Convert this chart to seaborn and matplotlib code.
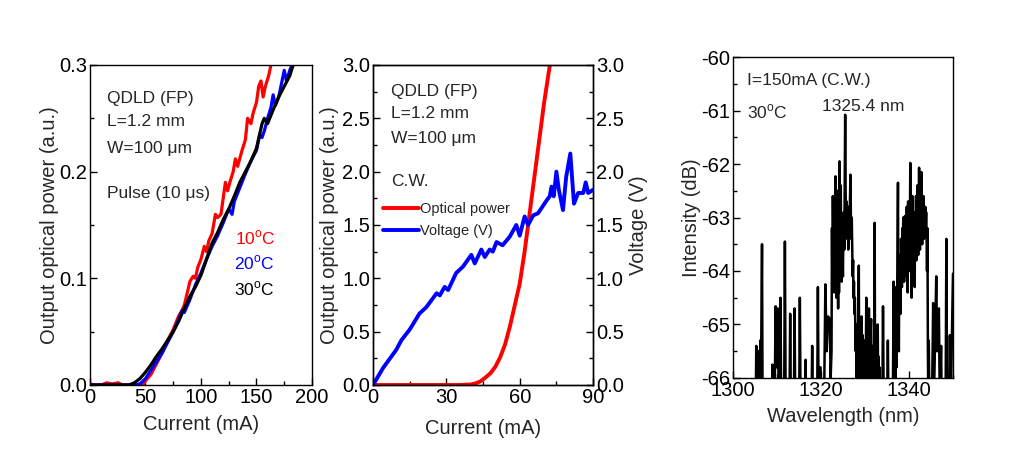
import matplotlib
matplotlib.use("Agg")
import matplotlib.pyplot as plt
import seaborn as sns
import numpy as np
from matplotlib.ticker import MultipleLocator, FormatStrFormatter

# ---------------- data: panel 1 (pulsed L-I at three temperatures) ----------------
i_10C = [0, 5, 10, 15, 20, 25, 30, 35, 40, 45, 48, 50, 55, 60, 65, 70, 75, 80, 83, 85, 88, 90, 93, 95,
         97, 100, 103, 105, 107, 110, 113, 115, 118, 120, 122, 124, 126, 129, 131, 133, 137, 140, 142,
         145, 147, 150, 152, 154, 156, 158, 161, 163, 165]
p_10C = [0.001, 0.0, 0.0, 0.002, 0.001, 0.002, 0.0, 0.0, 0.0, 0.0, 0.0, 0.004, 0.01, 0.02, 0.03, 0.042,
         0.052, 0.065, 0.07, 0.075, 0.088, 0.097, 0.102, 0.1, 0.11, 0.118, 0.13, 0.125, 0.135, 0.142,
         0.16, 0.157, 0.16, 0.175, 0.19, 0.182, 0.19, 0.2, 0.212, 0.205, 0.22, 0.23, 0.25, 0.245, 0.255,
         0.265, 0.28, 0.285, 0.27, 0.28, 0.29, 0.3, 0.305]

i_20C = [0, 10, 20, 30, 40, 45, 50, 55, 60, 65, 70, 75, 80, 83, 85, 90, 95, 100, 105, 110, 115, 120, 125,
         128, 130, 135, 140, 145, 150, 153, 155, 157, 160, 163, 165, 167, 170, 173, 175, 177, 180, 182]
p_20C = [0.0, 0.0, 0.0, 0.0, 0.0, 0.001, 0.006, 0.014, 0.022, 0.03, 0.04, 0.05, 0.062, 0.07, 0.068, 0.08,
         0.094, 0.105, 0.118, 0.13, 0.14, 0.152, 0.165, 0.16, 0.172, 0.185, 0.198, 0.21, 0.22, 0.235,
         0.232, 0.238, 0.25, 0.26, 0.272, 0.262, 0.27, 0.285, 0.295, 0.285, 0.295, 0.3]

i_30C = [0, 10, 20, 30, 35, 40, 45, 50, 55, 60, 65, 70, 75, 80, 85, 90, 95, 100, 105, 110, 115, 120, 125,
         130, 135, 140, 145, 150, 155, 157, 160, 165, 170, 175, 180, 183]
p_30C = [0.0, 0.0, 0.0, 0.0, 0.0, 0.002, 0.006, 0.012, 0.019, 0.027, 0.034, 0.042, 0.05, 0.06, 0.072, 0.083,
         0.092, 0.103, 0.118, 0.133, 0.143, 0.155, 0.165, 0.177, 0.19, 0.2, 0.21, 0.222, 0.245, 0.25,
         0.245, 0.258, 0.27, 0.28, 0.29, 0.3]

# ---------------- data: panel 2 (C.W. L-I-V) ----------------
i_cw_power = [0, 10, 20, 30, 35, 40, 42, 44, 46, 48, 50, 52, 54, 56, 58, 60, 62, 64, 66, 68, 70, 72, 73]
p_cw = [0, 0, 0, 0, 0, 0.005, 0.015, 0.035, 0.07, 0.11, 0.17, 0.26, 0.38, 0.55, 0.75, 0.95, 1.25, 1.6,
        1.95, 2.3, 2.65, 2.95, 3.1]

i_cw_volt = [0, 4.1, 9.5, 11.6, 15, 19, 21.8, 26, 27.3, 29.3, 30.7, 34, 36.8, 40.2, 41.6, 44.3, 45.7,
             47.7, 49, 50.5, 53, 55.9, 58.6, 60, 62, 63.4, 65.5, 67.5, 71, 72.3, 73, 73.9, 75, 76, 77.7,
             79, 80.7, 82.2, 83.9, 86, 87, 88, 90]
v_cw = [0.0, 0.16, 0.33, 0.42, 0.52, 0.67, 0.73, 0.86, 0.84, 0.92, 0.89, 1.05, 1.11, 1.22, 1.14, 1.27, 1.2,
        1.27, 1.25, 1.34, 1.31, 1.39, 1.5, 1.4, 1.58, 1.5, 1.59, 1.61, 1.73, 1.77, 1.86, 1.77, 2.0, 1.83,
        1.64, 1.95, 2.17, 1.7, 1.8, 1.8, 1.9, 1.8, 1.83]

# ---------------- data: panel 3 (spectrum, I=150 mA, 30 C) ----------------
# sparse spikes, 1300-1322.2 nm
wl_a = [1300.0, 1305.1, 1305.3, 1305.5, 1305.7, 1306.0, 1306.2, 1306.4, 1306.6, 1306.75,
        1308.8, 1308.95, 1309.1, 1309.5, 1309.7, 1309.9, 1310.2, 1310.4, 1310.8, 1311.0,
        1311.6, 1311.8, 1312.0, 1312.8, 1313.0, 1313.2, 1313.8, 1314.0, 1314.2,
        1315.0, 1315.2, 1315.4, 1316.3, 1316.5, 1316.7, 1317.8, 1318.0, 1318.2,
        1319.1, 1319.3, 1319.5, 1319.9, 1320.1, 1320.7, 1321.0, 1321.3, 1321.6, 1322.0, 1322.2]
db_a = [-67, -67, -65.4, -67, -65.5, -67, -65.3, -65.6, -63.5, -67,
        -67, -65.75, -67, -66.2, -64.66, -65.8, -64.7, -66.5, -64.5, -67,
        -67, -63.45, -67, -67, -64.8, -67, -67, -64.7, -67,
        -67, -64.5, -67, -67, -65.66, -67, -67, -65.4, -67,
        -67, -64.3, -67, -65.8, -67, -66.5, -64.25, -65.5, -64.85, -64.9, -66.0]
# main mode cluster, 1322.4-1333.4 nm, every 0.1 nm
wl_b_start = 1322.4
db_b = [-65.5, -63.2, -64.4, -62.6, -63.6, -64.3, -63.0, -64.4, -62.7, -62.23,
        -63.9, -64.5, -62.9, -62.5, -63.8, -64.7, -63.2, -64.4, -61.95, -63.3,
        -63.9, -62.4, -63.6, -64.2, -63.3, -63.9, -64.1, -63.0, -62.9, -63.6,
        -62.3, -61.08, -62.5, -63.0, -62.7, -63.3, -63.4, -62.9, -63.6, -62.8,
        -63.3, -63.1, -62.7, -62.2, -63.0, -63.4, -63.0, -63.6, -64.1, -63.8,
        -64.5, -64.2, -64.8, -64.5, -65.0, -65.5, -65.0, -66.5, -65.4, -65.9,
        -65.2, -64.8, -63.9, -66.3, -65.1, -65.9, -65.3, -66.4, -64.85, -65.7,
        -66.2, -65.2, -66.5, -65.4, -66.6, -65.8, -65.3, -66.1, -65.6, -64.5,
        -66.0, -65.4, -66.3, -65.0, -65.7, -64.7, -66.2, -65.5, -66.4, -65.1,
        -64.9, -66.0, -65.6, -66.3, -65.4, -66.1, -65.6, -66.3, -63.1, -66.0,
        -65.3, -66.2, -65.5, -66.4, -65.2, -65.0, -66.3, -65.6, -66.5, -65.8,
        -67]
# isolated lines, 1333.9-1336.2 nm
wl_c = [1333.9, 1334.1, 1334.3, 1335.0, 1335.2, 1335.4, 1336.2]
db_c = [-67, -64.66, -67, -67, -65.3, -67, -67]
# second cluster, 1336.3-1344.7 nm, every 0.1 nm
wl_d_start = 1336.3
db_d = [-67, -65.5, -64.2, -66.5, -65.6, -64.9, -66.2, -65.1, -64.3, -65.8,
        -64.6, -63.5, -62.35, -64.9, -65.5, -64.1, -64.6, -63.7, -64.8, -63.4,
        -63.9, -64.3, -63.2, -64.0, -63.0, -63.6, -64.2, -63.3, -62.97, -63.8,
        -63.3, -64.1, -62.8, -63.5, -64.4, -62.7, -63.4, -63.0, -64.0, -63.2,
        -61.98, -62.9, -63.4, -64.5, -63.1, -62.6, -63.5, -64.2, -63.0, -63.6,
        -64.3, -62.9, -63.5, -62.6, -63.8, -63.1, -62.4, -63.3, -63.7, -62.8,
        -62.07, -63.0, -63.6, -62.5, -62.9, -62.15, -63.1, -63.5, -62.7, -63.2,
        -62.6, -63.4, -62.9, -63.3, -62.8, -63.2, -62.9, -63.3, -64.0, -63.2,
        -65.5, -66.5, -65.3, -66.2, -67]
# long-wavelength tail, 1345.3-1350 nm
wl_e = [1345.3, 1345.5, 1345.7, 1346.0, 1346.2, 1346.4, 1346.6, 1346.8, 1347.0, 1347.3, 1347.5,
        1348.3, 1348.5, 1348.7, 1349.1, 1349.3, 1349.5, 1349.8, 1350.0]
db_e = [-66.0, -64.6, -66.3, -65.0, -64.1, -65.5, -65.2, -64.7, -66.5, -65.4, -67,
        -67, -63.4, -67, -67, -65.2, -66.5, -65.0, -64.05]

wl_b = list(np.round(wl_b_start + 0.1 * np.arange(len(db_b)), 2))
wl_d = list(np.round(wl_d_start + 0.1 * np.arange(len(db_d)), 2))
wavelength = wl_a + wl_b + wl_c + wl_d + wl_e
intensity = db_a + db_b + db_c + db_d + db_e

# ---------------- style ----------------
sns.set_style("ticks")
plt.rcParams['font.family'] = ['Liberation Sans', 'DejaVu Sans']
plt.rcParams['mathtext.fontset'] = 'custom'
plt.rcParams['mathtext.rm'] = 'Liberation Sans'
plt.rcParams['axes.linewidth'] = 1.0
plt.rcParams['axes.unicode_minus'] = False

TICK_FS = 14.5
LABEL_FS = 14.5
ANN_FS = 12.5

fig = plt.figure(figsize=(10.11, 4.58), dpi=100)
ax1 = fig.add_axes([0.089, 0.1594, 0.2196, 0.6987])
ax2 = fig.add_axes([0.369, 0.1594, 0.2176, 0.6987])
ax3 = fig.add_axes([0.725, 0.1747, 0.2176, 0.7008])


def style_ticks(ax, left=True, bottom=True, right=False, top=False):
    ax.tick_params(which='both', direction='in', left=left, bottom=bottom, right=right, top=top,
                   labelsize=TICK_FS, pad=2, colors='black')
    ax.tick_params(which='major', length=5, width=1)
    ax.tick_params(which='minor', length=3, width=1)
    for s in ax.spines.values():
        s.set_color('black')
        s.set_linewidth(1.0)


# ---- panel 1 ----
sns.lineplot(x=i_10C, y=p_10C, ax=ax1, color='#ff0000', lw=2.3, estimator=None)
sns.lineplot(x=i_20C, y=p_20C, ax=ax1, color='#0000ff', lw=2.3, estimator=None)
sns.lineplot(x=i_30C, y=p_30C, ax=ax1, color='black', lw=2.3, estimator=None)
ax1.set_xlim(0, 200)
ax1.set_ylim(0, 0.3)
ax1.xaxis.set_major_locator(MultipleLocator(50))
ax1.xaxis.set_minor_locator(MultipleLocator(25))
ax1.yaxis.set_major_locator(MultipleLocator(0.1))
ax1.yaxis.set_minor_locator(MultipleLocator(0.05))
ax1.yaxis.set_major_formatter(FormatStrFormatter('%.1f'))
style_ticks(ax1)
ax1.set_xlabel('Current (mA)', fontsize=LABEL_FS, labelpad=6)
ax1.set_ylabel('Output optical power (a.u.)', fontsize=LABEL_FS, labelpad=0)

t1 = dict(transform=ax1.transData, fontsize=ANN_FS, va='center', ha='left')
ax1.text(15, 0.269, 'QDLD (FP)', **t1)
ax1.text(15, 0.2468, 'L=1.2 mm', **t1)
ax1.text(15, 0.2219, 'W=100 μm', **t1)
ax1.text(15, 0.1797, 'Pulse (10 μs)', **t1)
ax1.text(131, 0.1375, '10$^{\\mathrm{o}}$C', color='#ff0000', **t1)
ax1.text(130, 0.1140, '20$^{\\mathrm{o}}$C', color='#0000ff', **t1)
ax1.text(130, 0.0905, '30$^{\\mathrm{o}}$C', color='black', **t1)

# ---- panel 2 ----
sns.lineplot(x=i_cw_power, y=p_cw, ax=ax2, color='#ff0000', lw=2.8, estimator=None, label='Optical power')
ax2b = ax2.twinx()
ax2b.set_position(ax2.get_position())
sns.lineplot(x=i_cw_volt, y=v_cw, ax=ax2b, color='#0000ff', lw=2.8, estimator=None, label='Voltage (V)')
ax2.set_xlim(0, 90)
ax2.set_ylim(0, 3.0)
ax2b.set_ylim(0, 3.0)
ax2.xaxis.set_major_locator(MultipleLocator(30))
ax2.xaxis.set_minor_locator(MultipleLocator(15))
for a in (ax2, ax2b):
    a.yaxis.set_major_locator(MultipleLocator(0.5))
    a.yaxis.set_minor_locator(MultipleLocator(0.25))
    a.yaxis.set_major_formatter(FormatStrFormatter('%.1f'))
style_ticks(ax2)
style_ticks(ax2b, left=False, right=True)
ax2b.tick_params(labelright=True, labelleft=False)
ax2.set_xlabel('Current (mA)', fontsize=LABEL_FS, labelpad=8.5)
ax2.set_ylabel('Output optical power (a.u.)', fontsize=LABEL_FS, labelpad=2.5)
ax2b.set_ylabel('Voltage (V)', fontsize=LABEL_FS, labelpad=4)

h1, l1 = ax2.get_legend_handles_labels()
h2, l2 = ax2b.get_legend_handles_labels()
if ax2b.get_legend() is not None:
    ax2b.get_legend().remove()
ax2.legend(h1 + h2, l1 + l2, loc='upper left', bbox_to_anchor=(0.0, 0.60), frameon=False,
           fontsize=10.5, handlelength=2.5, handletextpad=0.1, labelspacing=0.5, borderaxespad=0.25)

t2 = dict(transform=ax2.transData, fontsize=ANN_FS, va='center', ha='left')
ax2.text(7.5, 2.747, 'QDLD (FP)', **t2)
ax2.text(7.5, 2.547, 'L=1.2 mm', **t2)
ax2.text(7.5, 2.31, 'W=100 μm', **t2)
ax2.text(7.5, 1.906, 'C.W.', **t2)

# ---- panel 3 ----
sns.lineplot(x=wavelength, y=intensity, ax=ax3, color='black', lw=1.8, estimator=None)
ax3.set_xlim(1300, 1350)
ax3.set_ylim(-66, -60)
ax3.xaxis.set_major_locator(MultipleLocator(20))
ax3.xaxis.set_minor_locator(MultipleLocator(10))
ax3.yaxis.set_major_locator(MultipleLocator(1))
ax3.yaxis.set_minor_locator(MultipleLocator(0.5))
style_ticks(ax3)
ax3.set_xlabel('Wavelength (nm)', fontsize=LABEL_FS, labelpad=5)
ax3.set_ylabel('Intensity (dB)', fontsize=LABEL_FS, labelpad=0)

t3 = dict(transform=ax3.transData, fontsize=ANN_FS, va='center', ha='left')
ax3.text(1303.2, -60.43, 'I=150mA (C.W.)', **t3)
ax3.text(1303.2, -61.03, '30$^{\\mathrm{o}}$C', **t3)
ax3.text(1320.2, -60.93, '1325.4 nm', **t3)

fig.savefig('out.png', dpi=100)
